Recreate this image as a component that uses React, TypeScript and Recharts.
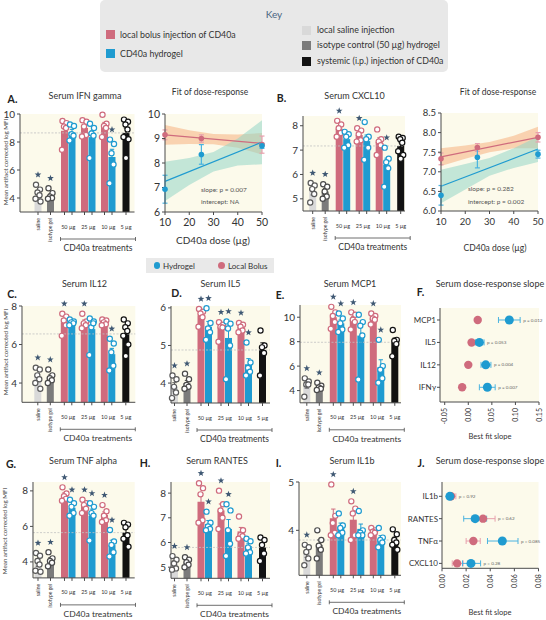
import React from "react";
import {
  ComposedChart, Bar, Cell, Scatter, ErrorBar, XAxis, YAxis,
  ReferenceLine, CartesianGrid, Area, Line,
} from "recharts";

const PINK = "#cf6b7d";
const BLUE = "#1f9bd0";
const PINK_ERR = "#e8a0ad";
const BLUE_ERR = "#4ab3e0";
const ORANGE_BAND = "#f6b789";
const TEAL_BAND = "#93d5c6";
const CREAM = "#fcfaeb";
const INK = "#333333";
const AXIS = "#4a4a4a";
const STAR = "#3f5873";
const FONT = "Lato, 'Open Sans', sans-serif";

// ---- bar panels: saline, isotype gel, 50 bolus, 50 gel, 25 bolus, 25 gel, 10 bolus, 10 gel, 5 i.p.
const groups = ["saline", "isotype gel", "50 µg", "50 µg", "25 µg", "25 µg", "10 µg", "10 µg", "5 µg"];
const barFill = ["#d9d9d9", "#7b7b7b", PINK, BLUE, PINK, BLUE, PINK, BLUE, "#121212"];
const dotStroke = ["#5a5a5a", "#4a4a4a", PINK, BLUE, PINK, BLUE, PINK, BLUE, "#121212"];

const ifnMean = [4.2, 4.15, 8.8, 8.7, 9.0, 8.35, 9.15, 6.93, 8.65];
const ifnSem = [0.18, 0.15, 0.38, 0.2, 0.22, 0.45, 0.25, 0.55, 0.35];
const ifnPts = [
  [4.95, 4.6, 4.4, 4.2, 3.95, 3.75], [4.7, 4.35, 4.1, 4.0, 3.95],
  [9.5, 9.35, 9.1, 9.0, 7.45], [9.25, 9.15, 8.55, 8.45, 8.1],
  [9.55, 9.45, 9.1, 8.5, 8.4], [9.3, 9.0, 8.6, 8.45, 6.85],
  [9.95, 9.3, 9.15, 9.0, 8.35], [8.17, 7.86, 7.2, 6.4, 5.05],
  [9.6, 9.45, 9.25, 8.9, 8.35, 8.2, 6.85],
];
const ifnStars = [0, 1, 7];

const cxclMean = [5.3, 5.3, 7.88, 7.45, 7.62, 7.37, 7.33, 6.4, 7.17];
const cxclSem = [0.14, 0.12, 0.12, 0.13, 0.1, 0.25, 0.17, 0.27, 0.13];
const cxclPts = [
  [5.65, 5.55, 5.4, 5.2, 4.85], [5.6, 5.5, 5.3, 5.1, 5.0],
  [8.2, 8.05, 7.9, 7.7, 7.55], [7.75, 7.65, 7.55, 7.2, 7.1],
  [7.9, 7.8, 7.65, 7.4, 7.35], [8.15, 7.55, 7.45, 7.1, 6.6],
  [7.85, 7.45, 7.35, 7.2, 6.8], [7.1, 6.65, 6.5, 6.25, 5.5],
  [7.55, 7.5, 7.45, 7.3, 6.95, 6.8, 6.65],
];
const cxclStars = [0, 1, 2, 4, 7];

const il12Mean = [4.3, 4.3, 7.15, 7.15, 7.15, 6.8, 7.15, 5.5, 6.55];
const il12Sem = [0.17, 0.12, 0.2, 0.05, 0.12, 0.35, 0.06, 0.3, 0.25];
const il12Pts = [
  [4.8, 4.7, 4.4, 4.2, 4.0, 3.7], [4.7, 4.4, 4.25, 4.15, 4.0],
  [7.6, 7.45, 7.25, 7.0, 6.45], [7.3, 7.2, 7.15, 7.1, 7.0],
  [7.6, 7.2, 7.1, 7.0, 6.85], [7.35, 7.2, 6.9, 7.1, 5.45],
  [7.3, 7.25, 7.15, 7.05, 7.0], [6.3, 6.05, 5.6, 4.9, 4.65],
  [7.3, 7.1, 6.9, 6.7, 6.45, 6.0, 5.4],
];
const il12Stars = [0, 1, 2, 4, 7];

const il5Mean = [3.9, 4.0, 5.8, 5.5, 5.5, 5.2, 5.5, 4.5, 4.88];
const il5Sem = [0.11, 0.07, 0.08, 0.14, 0.08, 0.28, 0.05, 0.15, 0.19];
const il5Pts = [
  [4.2, 4.1, 3.9, 3.75, 3.6], [4.25, 4.1, 3.95, 3.9, 3.85],
  [5.97, 5.9, 5.85, 5.75, 5.5], [5.99, 5.6, 5.45, 5.35, 5.15],
  [5.62, 5.55, 5.5, 5.48, 5.1], [5.64, 5.58, 5.45, 5.0, 4.1],
  [5.6, 5.55, 5.5, 5.4, 5.35], [5.08, 4.55, 4.4, 4.3, 4.2],
  [5.4, 5.0, 4.95, 4.8, 4.2],
];
const il5Stars = [0, 1, 2, 3, 4, 5, 6, 7];

const mcpMean = [4.45, 4.3, 10.0, 9.5, 9.8, 8.5, 9.9, 5.9, 7.95];
const mcpSem = [0.25, 0.11, 0.3, 0.28, 0.25, 1.0, 0.15, 0.62, 0.35];
const mcpPts = [
  [5.0, 4.75, 4.5, 4.5, 3.5], [4.65, 4.4, 4.25, 4.15, 4.05],
  [10.85, 10.4, 10.1, 9.6, 9.05], [10.3, 9.9, 9.5, 9.0, 8.8],
  [10.4, 10.2, 9.8, 9.6, 9.0], [10.2, 9.6, 9.3, 8.5, 4.9],
  [10.3, 10.1, 9.9, 9.8, 9.4], [8.15, 6.0, 5.7, 5.0, 4.65],
  [8.95, 8.15, 8.05, 7.8, 6.8],
];
const mcpStars = [0, 1, 2, 3, 4, 6, 7];

const tnfMean = [3.95, 4.1, 7.75, 7.05, 7.15, 6.6, 6.65, 4.95, 5.65];
const tnfSem = [0.2, 0.14, 0.14, 0.17, 0.13, 0.37, 0.17, 0.27, 0.22];
const tnfPts = [
  [4.5, 4.35, 4.05, 3.85, 3.5, 3.45], [4.55, 4.2, 4.05, 3.95, 3.75],
  [8.2, 7.85, 7.7, 7.55, 7.45], [7.5, 7.3, 7.1, 6.75, 6.6],
  [7.5, 7.3, 7.2, 7.0, 6.75], [7.3, 7.1, 6.75, 6.6, 5.2],
  [7.2, 6.85, 6.6, 6.35, 6.25], [5.8, 5.15, 4.95, 4.55, 4.3],
  [6.2, 6.1, 5.95, 5.5, 5.3, 4.85],
];
const tnfStars = [0, 1, 2, 3, 4, 5, 6, 7];

const rantesMean = [5.15, 5.2, 7.65, 6.75, 7.3, 6.55, 6.45, 5.85, 5.8];
const rantesSem = [0.11, 0.07, 0.33, 0.14, 0.26, 0.38, 0.16, 0.12, 0.18];
const rantesPts = [
  [5.45, 5.3, 5.15, 4.95, 4.9], [5.4, 5.3, 5.2, 5.1, 5.0],
  [8.4, 8.2, 7.95, 6.9, 6.8], [7.25, 6.8, 6.65, 6.55, 6.5],
  [8.1, 7.55, 7.3, 7.0, 6.55], [7.55, 7.3, 6.5, 5.95, 5.45],
  [7.05, 6.5, 6.3, 6.25, 6.15], [6.15, 6.05, 5.8, 5.6, 5.55],
  [6.2, 6.1, 5.9, 5.55, 5.25],
];
const rantesStars = [0, 1, 2, 3, 4, 5];

const il1Mean = [3.52, 3.7, 4.25, 4.07, 4.22, 4.03, 3.97, 3.82, 3.8];
const il1Sem = [0.08, 0.1, 0.19, 0.08, 0.16, 0.1, 0.03, 0.07, 0.06];
const il1Pts = [
  [3.7, 3.65, 3.55, 3.42, 3.28], [4.0, 3.8, 3.68, 3.6, 3.42],
  [4.95, 4.3, 4.15, 3.95, 3.9], [4.35, 4.1, 4.05, 3.95, 3.9],
  [4.6, 4.45, 4.35, 3.9, 3.8], [4.4, 4.0, 3.95, 3.9, 3.9],
  [4.05, 4.0, 3.97, 3.95, 3.9], [4.05, 3.85, 3.8, 3.75, 3.65],
  [4.02, 3.92, 3.8, 3.75, 3.7, 3.6],
];
const il1Stars = [0, 2, 4];

// ---- dose-response fits
const fitDose = [10, 25, 50];
const lineDose = [10, 50];
const bandDose = [10, 20, 30, 40, 50];

const ifnBolusFit = [9.15, 9.0, 8.75];
const ifnBolusSe = [0.2, 0.15, 0.35];
const ifnGelFit = [6.93, 8.35, 8.7];
const ifnGelSe = [0.57, 0.4, 0.1];
const ifnBolusLine = [9.15, 8.8];
const ifnGelLine = [7.25, 8.85];
const ifnBolusLo = [8.75, 8.78, 8.77, 8.62, 8.35];
const ifnBolusHi = [9.55, 9.34, 9.18, 9.16, 9.22];
const ifnGelLo = [6.45, 7.1, 7.65, 7.9, 7.95];
const ifnGelHi = [8.05, 8.2, 8.45, 9.0, 9.75];

const cxclBolusFit = [7.33, 7.62, 7.88];
const cxclBolusSe = [0.15, 0.1, 0.12];
const cxclGelFit = [6.4, 7.37, 7.45];
const cxclGelSe = [0.25, 0.27, 0.1];
const cxclBolusLine = [7.38, 7.88];
const cxclGelLine = [6.63, 7.58];
const cxclBolusLo = [7.15, 7.33, 7.5, 7.6, 7.6];
const cxclBolusHi = [7.6, 7.67, 7.76, 7.92, 8.15];
const cxclGelLo = [6.2, 6.55, 6.9, 7.1, 7.25];
const cxclGelHi = [7.05, 7.2, 7.35, 7.6, 7.9];

// ---- slopes
const fNames = ["MCP1", "IL5", "IL12", "IFNγ"];
const fBolus = [0.02, 0.007, 0.0, -0.013];
const fBolusLo = [0.017, 0.004, -0.003, -0.016];
const fBolusHi = [0.023, 0.01, 0.003, -0.01];
const fGel = [0.087, 0.0235, 0.037, 0.0405];
const fGelLo = [0.064, 0.0155, 0.027, 0.0235];
const fGelHi = [0.11, 0.0335, 0.048, 0.057];
const fP = ["p = 0.012", "p = 0.053", "p = 0.004", "p = 0.007"];

const jNames = ["IL1b", "RANTES", "TNFα", "CXCL10"];
const jBolus = [0.0075, 0.034, 0.026, 0.0125];
const jBolusLo = [0.0045, 0.025, 0.02, 0.0085];
const jBolusHi = [0.0115, 0.044, 0.0317, 0.0175];
const jGel = [0.0065, 0.0275, 0.05, 0.024];
const jGelLo = [0.0055, 0.018, 0.0377, 0.017];
const jGelHi = [0.0075, 0.037, 0.063, 0.032];
const jP = ["p = 0.92", "p = 0.62", "p = 0.085", "p = 0.28"];

// ---- layout
const SLOT = [0, 12.5, 26.5, 34, 46.5, 54, 66.5, 74, 88]; // px from the saline bar
const JIT = [-2, 2, -0.5, 1.5, -2.5, 2.5, 0];
const BAR_W = 7;

const Empty = () => <g />;

// bar drawn at the scale's centre with a fixed width
const BarRect = (p: any) => {
  if (p.x == null || !p.height) return <g />;
  const cx = p.x + p.width / 2;
  return <rect x={cx - BAR_W / 2} y={p.y} width={BAR_W} height={p.height} fill={p.fill} />;
};

const dot = (color: string, r = 2.6) => (p: any) =>
  p.cx == null ? <g /> : <circle cx={p.cx} cy={p.cy} r={r} fill="#fff" stroke={color} strokeWidth={1.2} />;

const filled = (color: string, r: number) => (p: any) =>
  p.cx == null ? <g /> : <circle cx={p.cx} cy={p.cy} r={r} fill={color} />;

const StarMark = (p: any) => {
  if (p.cx == null) return <g />;
  const cx = p.cx, cy = p.cy - 10;
  const pts: string[] = [];
  for (let k = 0; k < 10; k++) {
    const r = k % 2 ? 1.45 : 3.5;
    const a = -Math.PI / 2 + (k * Math.PI) / 5;
    pts.push(`${cx + r * Math.cos(a)},${cy + r * Math.sin(a)}`);
  }
  return <polygon points={pts.join(" ")} fill={STAR} />;
};

const CatTick = (p: any) => {
  const { x, y, index } = p;
  if (index < 2) {
    return (
      <text transform={`translate(${x + 1.8},${y + 1}) rotate(-90)`} textAnchor="end" fontSize={5} fill={INK}>
        {groups[index]}
      </text>
    );
  }
  if (index === 2 || index === 4 || index === 6) {
    return (
      <text x={x + (SLOT[index + 1] - SLOT[index]) / 2} y={y + 11.5} textAnchor="middle" fontSize={5.5} fill={INK}>
        {groups[index]}
      </text>
    );
  }
  if (index === 8) {
    const x0 = x - (SLOT[8] - SLOT[2]) - 4;
    const x1 = x + 9.5;
    const yb = y + 22;
    return (
      <g>
        <text x={x} y={y + 11.5} textAnchor="middle" fontSize={5.5} fill={INK}>{groups[8]}</text>
        <path d={`M${x0},${yb - 2}V${yb + 2}M${x0},${yb}H${x1}M${x1},${yb - 2}V${yb + 2}`} stroke={AXIS} strokeWidth={0.8} fill="none" />
        <text x={(x0 + x1) / 2} y={yb + 12} textAnchor="middle" fontSize={8.5} fill={INK}>CD40a treatments</text>
      </g>
    );
  }
  return <g />;
};

type Geo = { L: number; T: number; R: number; B: number; S: number; dom: number[]; ticks: number[] };

function BarPanel({ geo, mean, sem, pts, stars }: { geo: Geo; mean: number[]; sem: number[]; pts: number[][]; stars: number[] }) {
  const { L, T, R, B, S, dom, ticks } = geo;
  const bx = L - 24, by = T - 16;
  const bw = R - bx + 6, bh = B + 48 - by;
  const rows = mean.map((m, i) => ({ x: SLOT[i], y: m }));
  const starRows = stars.map((i) => ({ x: SLOT[i], y: Math.max(...pts[i], mean[i] + sem[i]) }));
  return (
    <div style={{ position: "absolute", left: bx, top: by }}>
      <ComposedChart width={bw} height={bh} data={rows} margin={{ top: T - by, right: bx + bw - R, bottom: 0, left: 0 }}>
        <CartesianGrid horizontal={false} vertical={false} fill={CREAM} />
        <ReferenceLine y={mean[8]} stroke="#c2c2c2" strokeDasharray="2 1.5" strokeWidth={0.8} />
        <XAxis type="number" dataKey="x" domain={[L - S, R - S]} ticks={SLOT} interval={0}
          tickSize={3} height={bh - (B - by)} stroke={AXIS} tick={CatTick} />
        <YAxis type="number" dataKey="y" domain={dom} ticks={ticks} interval={0} width={L - bx}
          tickSize={3} tickMargin={2} stroke={AXIS} tick={{ fontSize: 10, fill: INK }} />
        <Bar dataKey="y" shape={BarRect} isAnimationActive={false}>
          {rows.map((_, i) => <Cell key={i} fill={barFill[i]} />)}
        </Bar>
        {mean.map((m, i) => (
          <Scatter key={"e" + i} data={[{ x: SLOT[i], y: m, e: sem[i] }]} shape={Empty} isAnimationActive={false}>
            <ErrorBar dataKey="e" direction="y" width={2.2} stroke={dotStroke[i]} strokeWidth={1} />
          </Scatter>
        ))}
        {pts.map((arr, i) => (
          <Scatter key={"p" + i} data={arr.map((v, k) => ({ x: SLOT[i] + JIT[k % JIT.length], y: v }))}
            shape={dot(dotStroke[i])} isAnimationActive={false} />
        ))}
        <Scatter data={starRows} shape={StarMark} isAnimationActive={false} />
      </ComposedChart>
    </div>
  );
}

type FitGeo = { L: number; T: number; R: number; B: number; ydom: number[]; yticks: number[]; fs: number; dec: number };

function FitPanel({ geo, bFit, bSe, gFit, gSe, bLine, gLine, bLo, bHi, gLo, gHi }: any) {
  const { L, T, R, B, ydom, yticks, fs, dec } = geo as FitGeo;
  const bx = L - 26, by = T - 8;
  const bw = R - bx + 8, bh = B + 22 - by;
  const band = bandDose.map((d, i) => ({ x: d, ob: [bLo[i], bHi[i]], tb: [gLo[i], gHi[i]] }));
  const bL = lineDose.map((d, i) => ({ x: d, y: bLine[i] }));
  const gL = lineDose.map((d, i) => ({ x: d, y: gLine[i] }));
  const bP = fitDose.map((d, i) => ({ x: d, y: bFit[i], e: bSe[i] }));
  const gP = fitDose.map((d, i) => ({ x: d, y: gFit[i], e: gSe[i] }));
  return (
    <div style={{ position: "absolute", left: bx, top: by }}>
      <ComposedChart width={bw} height={bh} data={band} margin={{ top: T - by, right: bx + bw - R, bottom: 0, left: 0 }}>
        <CartesianGrid horizontal={false} vertical={false} fill={CREAM} />
        <XAxis type="number" dataKey="x" domain={[10, 50]} ticks={[10, 20, 30, 40, 50]} interval={0}
          tickSize={3} tickMargin={4} height={bh - (B - by)} stroke={AXIS} tick={{ fontSize: fs, fill: INK }} />
        <YAxis type="number" dataKey="y" domain={ydom} ticks={yticks} interval={0} width={L - bx}
          tickSize={3} stroke={AXIS} tick={{ fontSize: fs, fill: INK }} tickFormatter={(v: number) => v.toFixed(dec)} />
        <Area dataKey="ob" type="linear" stroke="none" fill={ORANGE_BAND} fillOpacity={0.6} isAnimationActive={false} />
        <Area dataKey="tb" type="linear" stroke="none" fill={TEAL_BAND} fillOpacity={0.55} isAnimationActive={false} />
        <Line data={bL} dataKey="y" stroke={PINK} strokeWidth={1.2} dot={false} isAnimationActive={false} />
        <Line data={gL} dataKey="y" stroke={BLUE} strokeWidth={1.2} dot={false} isAnimationActive={false} />
        <Scatter data={bP} shape={filled(PINK, 2.8)} isAnimationActive={false}>
          <ErrorBar dataKey="e" direction="y" width={2.5} stroke={PINK_ERR} strokeWidth={1.2} />
        </Scatter>
        <Scatter data={gP} shape={filled(BLUE, 2.8)} isAnimationActive={false}>
          <ErrorBar dataKey="e" direction="y" width={2.5} stroke={BLUE_ERR} strokeWidth={1.2} />
        </Scatter>
      </ComposedChart>
    </div>
  );
}

const RotTick = (p: any) => (
  <text transform={`translate(${p.x + 2.5},${p.y + 1}) rotate(-90)`} textAnchor="end" fontSize={7} fill={INK}>
    {Number(p.payload.value).toFixed(2)}
  </text>
);

const PLabel = (p: any) =>
  p.cx == null ? <g /> : <text x={p.cx + 3} y={p.cy + 1.6} fontSize={4.6} fill="#666">{p.payload.t}</text>;

function SlopePanel({ geo, names, bV, bLo, bHi, gV, gLo, gHi, pT }: any) {
  const { L, T, R, B, xdom, xticks, ydom } = geo;
  const bx = L - 48, by = T - 6;
  const bw = R - bx + 6, bh = B + 30 - by;
  const err = (v: number[], lo: number[], hi: number[]) =>
    names.map((_: string, i: number) => ({ x: v[i], y: i, e: [v[i] - lo[i], hi[i] - v[i]] }));
  const pRows = names.map((_: string, i: number) => ({ x: Math.max(bHi[i], gHi[i]), y: i, t: pT[i] }));
  return (
    <div style={{ position: "absolute", left: bx, top: by }}>
      <ComposedChart width={bw} height={bh} margin={{ top: T - by, right: bx + bw - R, bottom: 0, left: 0 }}>
        <CartesianGrid horizontal={false} vertical={false} fill={CREAM} />
        <XAxis type="number" dataKey="x" domain={xdom} ticks={xticks} interval={0} tickSize={3}
          height={bh - (B - by)} stroke={AXIS} tick={RotTick} />
        <YAxis type="number" dataKey="y" domain={ydom} reversed ticks={[0, 1, 2, 3]} interval={0}
          tickFormatter={(v: number) => names[v]} width={L - bx} tickSize={3} tickMargin={1}
          stroke={AXIS} tick={{ fontSize: 8, fill: INK }} />
        <Scatter data={err(bV, bLo, bHi)} shape={filled(PINK, 4.2)} isAnimationActive={false}>
          <ErrorBar dataKey="e" direction="x" width={3} stroke={PINK_ERR} strokeWidth={1} />
        </Scatter>
        <Scatter data={err(gV, gLo, gHi)} shape={filled(BLUE, 4.5)} isAnimationActive={false}>
          <ErrorBar dataKey="e" direction="x" width={3} stroke={BLUE_ERR} strokeWidth={1} />
        </Scatter>
        <Scatter data={pRows} shape={PLabel} isAnimationActive={false} />
      </ComposedChart>
    </div>
  );
}

function Txt({ x, y, size = 8, color = INK, anchor = "middle", rot = false, bold = false, children }: any) {
  const tx = anchor === "middle" ? "-50%" : anchor === "end" ? "-100%" : "0";
  return (
    <div style={{
      position: "absolute", left: x, top: y, fontSize: size, color, lineHeight: 1,
      fontWeight: bold ? 700 : 400, whiteSpace: "nowrap",
      transform: `translate(${tx}, -50%)${rot ? " rotate(-90deg)" : ""}`,
    }}>{children}</div>
  );
}

const Sw = ({ x, y, c }: any) => (
  <div style={{ position: "absolute", left: x, top: y, width: 9, height: 9, background: c }} />
);

const geoA: Geo = { L: 19.5, T: 113.7, R: 134, B: 211.7, S: 37.5, dom: [3, 10], ticks: [4, 6, 8, 10] };
const geoB: Geo = { L: 303, T: 116, R: 405, B: 211, S: 312.7, dom: [4.5, 8.4], ticks: [5, 6, 7, 8] };
const geoC: Geo = { L: 21.7, T: 306, R: 135, B: 402.3, S: 37.5, dom: [3, 8], ticks: [4, 6, 8] };
const geoD: Geo = { L: 171, T: 306, R: 270, B: 403, S: 174.5, dom: [3.47, 6.05], ticks: [4, 5, 6] };
const geoE: Geo = { L: 300, T: 305, R: 401, B: 402.8, S: 306.8, dom: [3, 11], ticks: [4, 6, 8, 10] };
const geoG: Geo = { L: 33.3, T: 481.8, R: 135, B: 577.7, S: 38.3, dom: [3.1, 8.5], ticks: [4, 6, 8] };
const geoH: Geo = { L: 171, T: 481.7, R: 270, B: 578, S: 174.5, dom: [4.55, 8.45], ticks: [5, 6, 7, 8] };
const geoI: Geo = { L: 299, T: 481.7, R: 401, B: 575, S: 306.8, dom: [3.07, 5.0], ticks: [4, 5] };

const YLAB = "Mean artifact corrected log MFI";
const KEY_FS = 8.8;

export default function App() {
  return (
    <div style={{
      position: "absolute", left: 0, top: 0, width: 546, height: 620, background: "#fff",
      fontFamily: FONT, color: INK, overflow: "hidden",
    }}>
      {/* key */}
      <div style={{ position: "absolute", left: 100, top: 0, width: 348, height: 72, background: "#e8e8e8", borderRadius: 5 }} />
      <Txt x={274} y={14} size={10} color="#4a6682">Key</Txt>
      <Sw x={106} y={30} c={PINK} />
      <Txt x={120} y={35} size={KEY_FS} anchor="start">local bolus injection of CD40a</Txt>
      <Sw x={106} y={49} c={BLUE} />
      <Txt x={120} y={53.5} size={KEY_FS} anchor="start">CD40a hydrogel</Txt>
      <Sw x={302} y={26} c="#d9d9d9" />
      <Txt x={317} y={30} size={KEY_FS} anchor="start">local saline injection</Txt>
      <Sw x={302} y={41} c="#7b7b7b" />
      <Txt x={317} y={45} size={KEY_FS} anchor="start">isotype control (50 µg) hydrogel</Txt>
      <Sw x={302} y={57} c="#121212" />
      <Txt x={317} y={61} size={KEY_FS} anchor="start">systemic (i.p.) injection of CD40a</Txt>

      <BarPanel geo={geoA} mean={ifnMean} sem={ifnSem} pts={ifnPts} stars={ifnStars} />
      <BarPanel geo={geoB} mean={cxclMean} sem={cxclSem} pts={cxclPts} stars={cxclStars} />
      <BarPanel geo={geoC} mean={il12Mean} sem={il12Sem} pts={il12Pts} stars={il12Stars} />
      <BarPanel geo={geoD} mean={il5Mean} sem={il5Sem} pts={il5Pts} stars={il5Stars} />
      <BarPanel geo={geoE} mean={mcpMean} sem={mcpSem} pts={mcpPts} stars={mcpStars} />
      <BarPanel geo={geoG} mean={tnfMean} sem={tnfSem} pts={tnfPts} stars={tnfStars} />
      <BarPanel geo={geoH} mean={rantesMean} sem={rantesSem} pts={rantesPts} stars={rantesStars} />
      <BarPanel geo={geoI} mean={il1Mean} sem={il1Sem} pts={il1Pts} stars={il1Stars} />

      <FitPanel geo={{ L: 165, T: 114, R: 262, B: 212, ydom: [6, 10], yticks: [6, 7, 8, 9, 10], fs: 10.5, dec: 0 }}
        bFit={ifnBolusFit} bSe={ifnBolusSe} gFit={ifnGelFit} gSe={ifnGelSe} bLine={ifnBolusLine} gLine={ifnGelLine}
        bLo={ifnBolusLo} bHi={ifnBolusHi} gLo={ifnGelLo} gHi={ifnGelHi} />
      <FitPanel geo={{ L: 441, T: 113, R: 538, B: 211, ydom: [6, 8.5], yticks: [6, 6.5, 7, 7.5, 8, 8.5], fs: 9.5, dec: 1 }}
        bFit={cxclBolusFit} bSe={cxclBolusSe} gFit={cxclGelFit} gSe={cxclGelSe} bLine={cxclBolusLine} gLine={cxclGelLine}
        bLo={cxclBolusLo} bHi={cxclBolusHi} gLo={cxclGelLo} gHi={cxclGelHi} />

      <SlopePanel geo={{ L: 439.5, T: 308, R: 538.5, B: 402, xdom: [-0.06, 0.15], xticks: [-0.05, 0, 0.05, 0.1, 0.15], ydom: [-0.535, 3.656] }}
        names={fNames} bV={fBolus} bLo={fBolusLo} bHi={fBolusHi} gV={fGel} gLo={fGelLo} gHi={fGelHi} pT={fP} />
      <SlopePanel geo={{ L: 442, T: 481.7, R: 538.5, B: 568, xdom: [0, 0.08], xticks: [0, 0.02, 0.04, 0.06, 0.08], ydom: [-0.64, 3.22] }}
        names={jNames} bV={jBolus} bLo={jBolusLo} bHi={jBolusHi} gV={jGel} gLo={jGelLo} gHi={jGelHi} pT={jP} />

      {/* letters */}
      <Txt x={12.5} y={98.5} size={10.5} bold color="#222">A.</Txt>
      <Txt x={281.5} y={98} size={10.5} bold color="#222">B.</Txt>
      <Txt x={12} y={293.5} size={10.5} bold color="#222">C.</Txt>
      <Txt x={176.5} y={293} size={10.5} bold color="#222">D.</Txt>
      <Txt x={280} y={295} size={10.5} bold color="#222">E.</Txt>
      <Txt x={420.5} y={292} size={10.5} bold color="#222">F.</Txt>
      <Txt x={11} y={463.5} size={10.5} bold color="#222">G.</Txt>
      <Txt x={145} y={463} size={10.5} bold color="#222">H.</Txt>
      <Txt x={278.5} y={463} size={10.5} bold color="#222">I.</Txt>
      <Txt x={421} y={463} size={10.5} bold color="#222">J.</Txt>

      {/* titles */}
      <Txt x={85} y={94.5} size={9}>Serum IFN gamma</Txt>
      <Txt x={210} y={92} size={8.5}>Fit of dose-response</Txt>
      <Txt x={354.5} y={95} size={9}>Serum CXCL10</Txt>
      <Txt x={498} y={92} size={8.5}>Fit of dose-response</Txt>
      <Txt x={84.5} y={283} size={9}>Serum IL12</Txt>
      <Txt x={220.5} y={283} size={9}>Serum IL5</Txt>
      <Txt x={350} y={283} size={9}>Serum MCP1</Txt>
      <Txt x={490} y={283} size={9}>Serum dose-response slope</Txt>
      <Txt x={83} y={460} size={9}>Serum TNF alpha</Txt>
      <Txt x={217} y={460} size={9}>Serum RANTES</Txt>
      <Txt x={352} y={460} size={9}>Serum IL1b</Txt>
      <Txt x={490} y={460} size={9}>Serum dose-response slope</Txt>

      {/* axis titles */}
      <Txt x={5.5} y={162} size={6.2} rot color="#444">{YLAB}</Txt>
      <Txt x={5.5} y={352} size={6.2} rot color="#444">{YLAB}</Txt>
      <Txt x={5} y={531} size={6.2} rot color="#444">{YLAB}</Txt>
      <Txt x={213} y={240} size={10}>CD40a dose (µg)</Txt>
      <Txt x={495} y={248} size={8.5}>CD40a dose (µg)</Txt>
      <Txt x={490} y={437} size={7.5}>Best fit slope</Txt>
      <Txt x={490} y={613} size={7.5}>Best fit slope</Txt>

      {/* fit annotations */}
      <Txt x={201} y={190} size={6.5} anchor="start" color="#555">slope: p = 0.007</Txt>
      <Txt x={201} y={202} size={6.5} anchor="start" color="#555">intercept: NA</Txt>
      <Txt x={468} y={189} size={6.5} anchor="start" color="#555">slope: p = 0.282</Txt>
      <Txt x={468} y={201.5} size={6.5} anchor="start" color="#555">intercept: p = 0.002</Txt>

      {/* fit legend */}
      <div style={{ position: "absolute", left: 146, top: 258, width: 128, height: 15, background: "#e9e9e9" }} />
      <div style={{ position: "absolute", left: 153.5, top: 262.3, width: 6.5, height: 6.5, borderRadius: 4, background: BLUE }} />
      <Txt x={163} y={265.5} size={8} anchor="start">Hydrogel</Txt>
      <div style={{ position: "absolute", left: 218, top: 262.3, width: 6.5, height: 6.5, borderRadius: 4, background: PINK }} />
      <Txt x={228} y={265.5} size={8} anchor="start">Local Bolus</Txt>
    </div>
  );
}
